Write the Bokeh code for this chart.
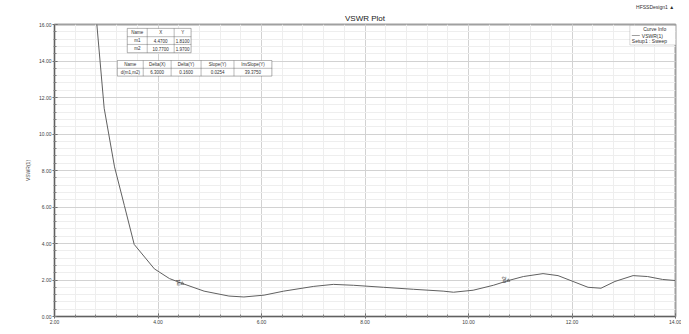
import math
from bokeh.plotting import figure
from bokeh.models import (Label, BoxAnnotation, FixedTicker, NumeralTickFormatter,
                          ColumnDataSource, Range1d, Title)
from bokeh.embed import file_html
from bokeh.resources import INLINE

# ---------------- data ----------------
freq = [2.80, 2.96, 3.16, 3.35, 3.54, 3.93, 4.22, 4.47, 4.89, 5.37, 5.66, 6.05, 6.43,
        7.01, 7.39, 7.78, 8.36, 8.94, 9.51, 9.71, 10.09, 10.48, 10.77, 11.06, 11.44,
        11.73, 12.02, 12.31, 12.56, 12.83, 13.18, 13.46, 13.75, 14.00]
vswr = [16.6, 11.41, 8.20, 6.08, 3.95, 2.61, 2.08, 1.81, 1.39, 1.12, 1.07, 1.17, 1.39,
        1.65, 1.76, 1.71, 1.60, 1.49, 1.39, 1.33, 1.44, 1.71, 1.97, 2.19, 2.35,
        2.24, 1.92, 1.60, 1.55, 1.92, 2.24, 2.19, 2.03, 1.97]
x_ticks = [2, 4, 6, 8, 10, 12, 14]
y_ticks = [0, 2, 4, 6, 8, 10, 12, 14, 16]
marker_names = ["m1", "m2"]
marker_x = [4.47, 10.77]
marker_y = [1.81, 1.97]
title_text = "VSWR Plot"
design_text = "HFSSDesign1  \u25B2"
y_label = "VSWR(1)"
trace_name = "VSWR(1)"
setup_name = "Setup1 : Sweep"
table1_header = ["Name", "X", "Y"]
table2_header = ["Name", "Delta(X)", "Delta(Y)", "Slope(Y)", "InvSlope(Y)"]

FONT = "Liberation Sans"

p = figure(width=681, height=326, x_range=Range1d(2, 14), y_range=Range1d(0, 16),
           output_backend="svg", toolbar_location=None,
           min_border_left=54, min_border_right=6, min_border_top=24, min_border_bottom=9)
p.outline_line_color = "#a0a0a0"
p.outline_line_width = 2
p.background_fill_color = "white"
p.border_fill_color = "white"

# top row: design name (outer), chart title (inner, nearest the frame)
p.title.text = design_text
p.title.align = "right"
p.title.text_font = FONT
p.title.text_font_size = "5px"
p.title.text_font_style = "normal"
p.title.text_color = "#303030"
p.title.standoff = 0
p.add_layout(Title(text=title_text, align="center", text_font=FONT, text_font_size="8px",
                   text_font_style="normal", text_color="#202020", standoff=4), "above")

for ax in (p.xaxis[0], p.yaxis[0]):
    ax.major_label_text_font = FONT
    ax.major_label_text_font_size = "5px"
    ax.major_label_text_color = "#404040"
    ax.axis_line_color = "#606060"
    ax.major_tick_line_color = "#606060"
    ax.minor_tick_line_color = "#808080"
    ax.major_tick_in = 3
    ax.major_tick_out = 2
    ax.minor_tick_in = 2
    ax.minor_tick_out = 1
    ax.major_label_standoff = 1
    ax.formatter = NumeralTickFormatter(format="0.00")

p.xaxis.ticker = FixedTicker(ticks=x_ticks,
                             minor_ticks=[x_ticks[0] + 0.4 * i for i in range(31)])
p.yaxis.ticker = FixedTicker(ticks=y_ticks,
                             minor_ticks=[y_ticks[0] + 0.4 * i for i in range(41)])
p.yaxis.axis_label = y_label
p.yaxis.axis_label_text_font = FONT
p.yaxis.axis_label_text_font_size = "5px"
p.yaxis.axis_label_text_font_style = "normal"
p.yaxis.axis_label_standoff = 5

p.xgrid.grid_line_color = "#d2d2d2"
p.ygrid.grid_line_color = "#d2d2d2"
p.xgrid.minor_grid_line_color = "#eeeeee"
p.ygrid.minor_grid_line_color = "#eeeeee"

src = ColumnDataSource(dict(x=freq, y=vswr))
p.line("x", "y", source=src, line_color="#606060", line_width=1)

msrc = ColumnDataSource(dict(x=marker_x, y=marker_y, name=marker_names))
p.scatter("x", "y", source=msrc, marker="triangle", size=3, fill_color=None,
          line_color="#404040", line_width=0.6)
p.text("x", "y", text="name", source=msrc, angle=math.pi / 2, text_font_size="4.5px",
       text_align="center", text_baseline="bottom", x_offset=-1, y_offset=-1,
       text_color="#303030")

# --- helpers to place annotations (reference pixel layout -> data coords) ---
def X(px):
    return 2 + (px - 50) / 51.9

def Y(py):
    return (324 - py) / 18.75

def txt(px, py, s, size="5px", align="center", color="#303030"):
    p.add_layout(Label(x=X(px), y=Y(py), text=s, text_font=FONT, text_font_size=size,
                       text_align=align, text_baseline="middle", text_color=color))

def box(x0, x1, y0, y1, fill=None, lw=0.7, color="#505050"):
    p.add_layout(BoxAnnotation(left=X(x0), right=X(x1), top=Y(y0), bottom=Y(y1),
                               fill_color=fill if fill else "white",
                               fill_alpha=1 if fill else 0,
                               line_color=color, line_width=lw))

# legend
box(627, 678, 25, 45, fill="white")
txt(652, 29, "Curve Info", size="5px")
p.add_layout(BoxAnnotation(left=X(629), right=X(637), top=Y(35.3), bottom=Y(35.9),
                           fill_color="#404040", fill_alpha=1, line_alpha=0))
txt(639, 35.5, trace_name, size="5px", align="left")
txt(629, 41, setup_name, size="5px", align="left")

# marker table
t1x = [123, 143, 170, 187]
t1y = [28, 36.5, 44.5, 53]
box(t1x[0], t1x[-1], t1y[0], t1y[-1], fill="white", lw=0.9)
rows1 = [table1_header] + [[n, "%.4f" % mx, "%.4f" % my]
                           for n, mx, my in zip(marker_names, marker_x, marker_y)]
for r in range(3):
    for c in range(3):
        box(t1x[c], t1x[c + 1], t1y[r], t1y[r + 1])
        txt((t1x[c] + t1x[c + 1]) / 2, (t1y[r] + t1y[r + 1]) / 2, rows1[r][c], size="4.5px")

# delta table
dx = marker_x[1] - marker_x[0]
dy = marker_y[1] - marker_y[0]
slope = dy / dx
rows2 = [table2_header,
         ["d(%s,%s)" % (marker_names[0], marker_names[1]), "%.4f" % dx, "%.4f" % dy,
          "%.4f" % slope, "%.4f" % (1 / slope)]]
t2x = [113, 139, 167, 197, 230, 268]
t2y = [61, 69, 77]
box(t2x[0], t2x[-1], t2y[0], t2y[-1], fill="white", lw=0.9)
for r in range(2):
    for c in range(5):
        box(t2x[c], t2x[c + 1], t2y[r], t2y[r + 1])
        txt((t2x[c] + t2x[c + 1]) / 2, (t2y[r] + t2y[r + 1]) / 2, rows2[r][c], size="4.5px")

open("out.html", "w").write(file_html(p, INLINE))
